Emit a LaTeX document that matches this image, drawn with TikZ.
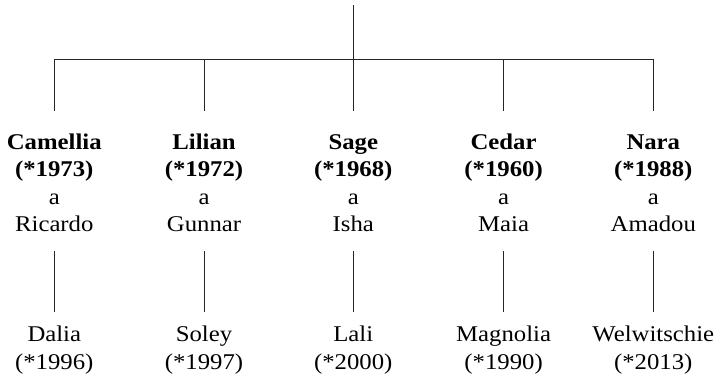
\documentclass[tikz,border=0pt]{standalone}
\usepackage{fontspec}
\setmainfont{Liberation Serif}[FakeStretch=1.1]
\newcommand{\topst}{\rule{0pt}{16pt}}
\newcommand{\botst}{\rule[-5pt]{0pt}{5pt}}
\begin{document}
\begin{tikzpicture}[x=1pt,y=-1pt,
  person/.style={inner sep=0pt, outer sep=0pt, align=center, anchor=north,
    font=\fontsize{22.5}{27.4}\selectfont},
  conn/.style={line width=0.8pt, draw=black!85}]
\useasboundingbox (0,0) rectangle (718,377);
\coordinate (root) at (353.3,5);
\coordinate (b1) at (54.3,59.3);
\coordinate (b2) at (204,59.3);
\coordinate (b3) at (353.3,59.3);
\coordinate (b4) at (503.6,59.3);
\coordinate (b5) at (653.3,59.3);
\node[person] (p1) at (54.3,133.3) {\topst\textbf{Camellia}\\\textbf{(*1973)}\\a\\Ricardo\botst};
\node[person] (p2) at (204,133.3) {\topst\textbf{Lilian}\\\textbf{(*1972)}\\a\\Gunnar\botst};
\node[person] (p3) at (353.3,133.3) {\topst\textbf{Sage}\\\textbf{(*1968)}\\a\\Isha\botst};
\node[person] (p4) at (503.6,133.3) {\topst\textbf{Cedar}\\\textbf{(*1960)}\\a\\Maia\botst};
\node[person] (p5) at (653.3,133.3) {\topst\textbf{Nara}\\\textbf{(*1988)}\\a\\Amadou\botst};
\node[person] (c1) at (54.3,325.7) {\topst Dalia\\(*1996)};
\node[person] (c2) at (204,325.7) {\topst Soley\\(*1997)};
\node[person] (c3) at (353.3,325.7) {\topst Lali\\(*2000)};
\node[person] (c4) at (503.6,325.7) {\topst Magnolia\\(*1990)};
\node[person] (c5) at (653.3,325.7) {\topst Welwitschie\\(*2013)};
\draw[conn] (root) -- (b3);
\draw[conn] (b1) -- (b5);
\foreach \i in {1,...,5}{
  \draw[conn, shorten >=22.3pt] (b\i) -- (p\i.north);
  \draw[conn, shorten <=14.3pt, shorten >=14pt] (p\i.south) -- (c\i.north);
}
\end{tikzpicture}
\end{document}
